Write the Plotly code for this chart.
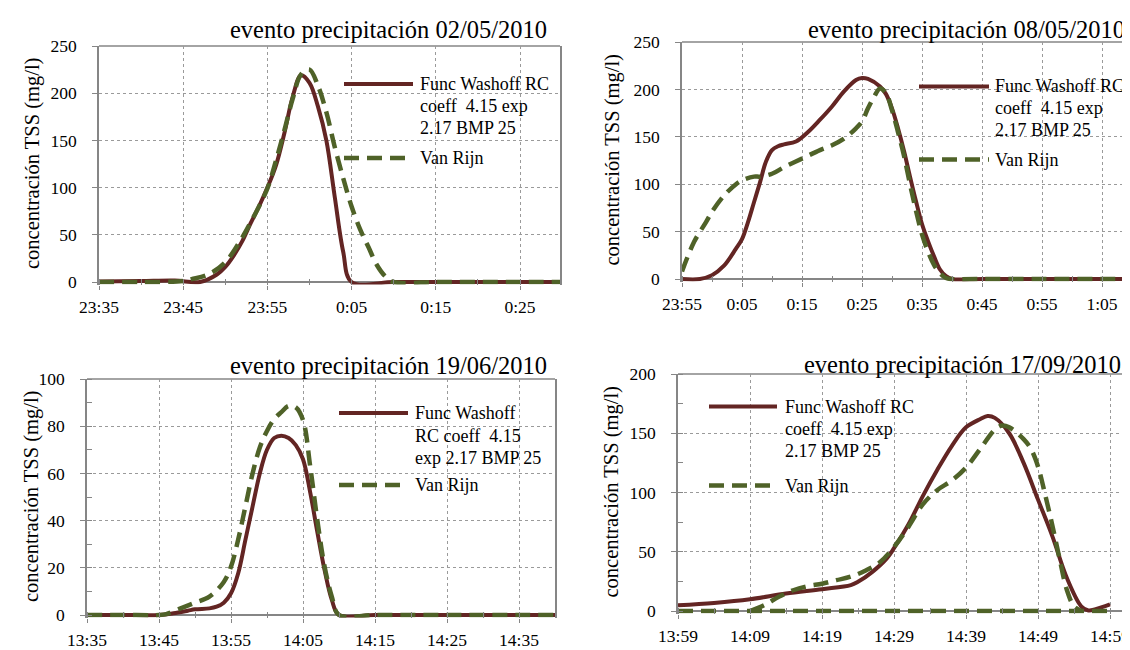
import datetime as dt
import plotly.graph_objects as go

W, H = 1130, 650
FONT = "Liberation Serif, Times New Roman, serif"
RED = "#632523"
GREEN = "#4F6228"
AXIS = "#868686"
GRID = "#9A9A9A"
DELTA = 2.5  # px of room below the zero line so baseline strokes are not half clipped

# ---------------- data ----------------
# Panel 1: 02/05/2010
p1_title = "evento precipitación 02/05/2010"
p1_date = "2010-05-02"
p1_xlabels = ["23:35", "23:45", "23:55", "0:05", "0:15", "0:25"]
p1_xrange = ["23:35", "00:29:45"]
p1_yticks = [0, 50, 100, 150, 200, 250]
p1_wash_t = ["23:35", "23:40", "23:44", "23:47", "23:49", "23:50", "23:51", "23:52", "23:53", "23:54",
             "23:55", "23:56", "23:57", "23:58", "23:59", "00:00", "00:01", "00:02", "00:03", "00:04",
             "00:05", "00:10", "00:15", "00:20", "00:25", "00:30"]
p1_wash_v = [0.5, 1, 1.5, 0, 8, 16, 28, 43, 62, 80,
             100, 123, 157, 196, 219, 211, 186, 150, 90, 32,
             0, 0, 0, 0, 0, 0]
p1_vr_t = ["23:35", "23:40", "23:45", "23:46", "23:48", "23:50", "23:52", "23:53", "23:54", "23:55",
           "23:56", "23:57", "23:58", "23:59", "00:00", "00:01", "00:02", "00:03", "00:04", "00:05",
           "00:06", "00:07", "00:08", "00:09", "00:10", "00:15", "00:20", "00:25", "00:30"]
p1_vr_v = [0, 0, 1, 3, 8, 21, 47, 63, 80, 99,
           128, 160, 194, 220, 225, 208, 180, 143, 110, 80,
           56, 37, 18, 6, 0, 0, 0, 0, 0]

# Panel 2: 08/05/2010
p2_title = "evento precipitación 08/05/2010"
p2_date = "2010-05-08"
p2_xlabels = ["23:55", "0:05", "0:15", "0:25", "0:35", "0:45", "0:55", "1:05"]
p2_xrange = ["23:55", "01:11"]
p2_yticks = [0, 50, 100, 150, 200, 250]
p2_wash_t = ["23:55", "23:58", "00:00", "00:02", "00:04", "00:05", "00:06", "00:07", "00:08", "00:09",
             "00:10", "00:11", "00:12", "00:14", "00:16", "00:18", "00:20", "00:22", "00:24", "00:25",
             "00:26", "00:28", "00:29", "00:30", "00:31", "00:32", "00:33", "00:34", "00:35", "00:36",
             "00:37", "00:38", "00:39", "00:40", "00:45", "00:55", "01:05", "01:15"]
p2_wash_v = [0, 0, 4, 14, 32, 42, 60, 81, 102, 124,
             136, 140, 142, 145, 155, 168, 182, 198, 210, 212,
             211, 203, 195, 180, 159, 135, 108, 82, 58, 40,
             24, 10, 3, 0, 0, 0, 0, 0]
p2_vr_t = ["23:55", "23:57", "23:59", "00:00", "00:02", "00:04", "00:05", "00:07", "00:08", "00:10",
           "00:12", "00:15", "00:18", "00:20", "00:22", "00:24", "00:25", "00:26", "00:27", "00:28",
           "00:29", "00:30", "00:31", "00:32", "00:33", "00:34", "00:35", "00:36", "00:37", "00:38",
           "00:39", "00:40", "00:45", "00:55", "01:05", "01:15"]
p2_vr_v = [8, 39, 60, 71, 88, 100, 104, 108, 108, 111,
           118, 127, 136, 141, 148, 159, 166, 180, 192, 201,
           196, 178, 155, 130, 100, 72, 47, 29, 15, 6,
           1, 0, 0, 0, 0, 0]

# Panel 3: 19/06/2010
p3_title = "evento precipitación 19/06/2010"
p3_date = "2010-06-19"
p3_xlabels = ["13:35", "13:45", "13:55", "14:05", "14:15", "14:25", "14:35"]
p3_xrange = ["13:35", "14:40"]
p3_yticks = [0, 20, 40, 60, 80, 100]
p3_wash_t = ["13:35", "13:40", "13:45", "13:47", "13:49", "13:50", "13:52", "13:53", "13:54", "13:55",
             "13:56", "13:57", "13:58", "13:59", "14:00", "14:01", "14:02", "14:03", "14:04", "14:05",
             "14:06", "14:07", "14:08", "14:09", "14:10", "14:15", "14:20", "14:25", "14:30", "14:35",
             "14:40"]
p3_wash_v = [0, 0, 0, 0.7, 1.8, 2.4, 2.8, 3.5, 5.2, 9.2,
             17.7, 31.8, 46, 60, 70, 75, 76, 75, 72, 66,
             52, 35, 19, 6.4, 0, 0, 0, 0, 0, 0,
             0]
p3_vr_t = ["13:35", "13:40", "13:45", "13:46", "13:48", "13:50", "13:52", "13:54", "13:55", "13:56",
           "13:57", "13:58", "13:59", "14:00", "14:01", "14:02", "14:03", "14:04", "14:05", "14:06",
           "14:07", "14:08", "14:09", "14:10", "14:15", "14:20", "14:25", "14:30", "14:35", "14:40"]
p3_vr_v = [0, 0, 0, 0.4, 2.8, 5.2, 7.8, 14, 20.5, 32,
           46, 60, 71, 78, 83, 86, 88.6, 88, 82.6, 63,
           40, 20.5, 7.8, 0, 0, 0, 0, 0, 0, 0]

# Panel 4: 17/09/2010
p4_title = "evento precipitación 17/09/2010"
p4_date = "2010-09-17"
p4_xlabels = ["13:59", "14:09", "14:19", "14:29", "14:39", "14:49", "14:59"]
p4_xrange = ["13:59", "15:02:20"]
p4_yticks = [0, 50, 100, 150, 200]
p4_wash_t = ["13:59", "14:04", "14:09", "14:14", "14:19", "14:23", "14:24", "14:26", "14:28", "14:29",
             "14:31", "14:33", "14:35", "14:37", "14:39", "14:41", "14:42", "14:43", "14:45", "14:47",
             "14:49", "14:51", "14:53", "14:55", "14:56", "14:57", "14:59"]
p4_wash_v = [4.8, 6.8, 9.9, 14.7, 18.4, 21.8, 24.6, 33, 44.4, 53,
             73, 97, 119, 139, 155, 162, 164.5, 163, 150, 125,
             94, 63, 28, 4, 0.5, 1.5, 5.5]
p4_vr_t = ["14:09", "14:11", "14:13", "14:15", "14:17", "14:19", "14:21", "14:23", "14:25", "14:27",
           "14:29", "14:31", "14:33", "14:35", "14:37", "14:39", "14:41", "14:43", "14:44", "14:45",
           "14:47", "14:48", "14:49", "14:50", "14:51", "14:52", "14:53", "14:54", "14:55"]
p4_vr_v = [0, 5, 12, 17.5, 21, 23, 26, 29, 34, 41,
           54, 71, 90, 102, 110, 121, 137, 153, 156.5, 155,
           145, 137, 122, 98, 72, 44, 18, 4, 0]
p4_base_t = ["13:59", "14:59"]
p4_base_v = [0, 0]

leg_wash_a = ["Func Washoff RC", "coeff\u00a0\u00a04.15 exp", "2.17 BMP 25"]
leg_wash_b = ["Func Washoff", "RC coeff\u00a0\u00a04.15", "exp 2.17 BMP 25"]
leg_vr = "Van Rijn"
ytitle = "concentración TSS (mg/l)"


def to_dt(date, start, times):
    base = dt.datetime.strptime(date, "%Y-%m-%d")
    sh = int(start.split(":")[0])
    out = []
    for s in times:
        parts = [int(p) for p in s.split(":")]
        h, m = parts[0], parts[1]
        sec = parts[2] if len(parts) > 2 else 0
        d = base + dt.timedelta(hours=h, minutes=m, seconds=sec)
        if h < sh - 12:
            d += dt.timedelta(days=1)
        out.append(d)
    return out


def px(x):
    return x / W


def py(y):
    return 1 - y / H


panels = [
    dict(title=p1_title, date=p1_date, xlabels=p1_xlabels, xrange=p1_xrange, yticks=p1_yticks,
         wash=(p1_wash_t, p1_wash_v), vr=[(p1_vr_t, p1_vr_v)],
         box=(91, 552, 38, 274), ymirror=True, yminor=None,
         tpos=(541, 21.5), ytpos=(24, 156),
         leg=dict(x0=336, x1=405, tx=410, ys=[76, 98, 120], yv=150, text=leg_wash_a)),
    dict(title=p2_title, date=p2_date, xlabels=p2_xlabels, xrange=p2_xrange, yticks=p2_yticks,
         wash=(p2_wash_t, p2_wash_v), vr=[(p2_vr_t, p2_vr_v)],
         box=(674, 1130, 34, 271), ymirror=False, yminor=None,
         tpos=(1119, 21.5), ytpos=(604, 152.5),
         leg=dict(x0=911, x1=981, tx=985, ys=[78.5, 100, 122], yv=151.5, text=leg_wash_a)),
    dict(title=p3_title, date=p3_date, xlabels=p3_xlabels, xrange=p3_xrange, yticks=p3_yticks,
         wash=(p3_wash_t, p3_wash_v), vr=[(p3_vr_t, p3_vr_v)],
         box=(79, 547, 371, 607), ymirror=True, yminor=10,
         tpos=(541, 357), ytpos=(23, 489),
         leg=dict(x0=331, x1=400, tx=405, ys=[405, 428, 450], yv=477, text=leg_wash_b)),
    dict(title=p4_title, date=p4_date, xlabels=p4_xlabels, xrange=p4_xrange, yticks=p4_yticks,
         wash=(p4_wash_t, p4_wash_v), vr=[(p4_vr_t, p4_vr_v), (p4_base_t, p4_base_v)],
         box=(670, 1126, 366, 603), ymirror=True, yminor=25,
         tpos=(1115, 356), ytpos=(603, 484.5),
         leg=dict(x0=701, x1=769, tx=775, ys=[398.5, 421, 443], yv=477.5, text=leg_wash_a)),
]

fig = go.Figure()
annotations = []
shapes = []
layout = {}
tickfont = dict(family=FONT, size=17.5, color="black")

for i, p in enumerate(panels, start=1):
    xa = "x" if i == 1 else f"x{i}"
    ya = "y" if i == 1 else f"y{i}"
    start = p["xlabels"][0]
    wt, wv = p["wash"]
    fig.add_trace(go.Scatter(x=to_dt(p["date"], start, wt), y=wv, mode="lines",
                             line=dict(color=RED, width=4, shape="spline", smoothing=1),
                             xaxis=xa, yaxis=ya, showlegend=False, hoverinfo="skip"))
    for vt, vv in p["vr"]:
        fig.add_trace(go.Scatter(x=to_dt(p["date"], start, vt), y=vv, mode="lines",
                                 line=dict(color=GREEN, width=4.5, shape="spline", smoothing=1,
                                           dash="15px,8px"),
                                 xaxis=xa, yaxis=ya, showlegend=False, hoverinfo="skip"))
    x0, x1, y0, y1 = p["box"]
    ymax = p["yticks"][-1]
    upp = ymax / (y1 - y0)
    xticks = to_dt(p["date"], start, p["xlabels"])
    xr = to_dt(p["date"], start, p["xrange"])
    layout[f"xaxis{i}" if i > 1 else "xaxis"] = dict(
        domain=[px(x0), min(px(x1), 1.0)], anchor=ya, type="date", automargin=False,
        range=[xr[0], xr[1]], tickmode="array", tickvals=xticks, ticktext=p["xlabels"],
        ticks="outside", ticklen=4, tickcolor=AXIS, tickwidth=1,
        showline=False,
        showgrid=True, gridcolor=GRID, griddash="dot", gridwidth=1,
        zeroline=False, ticklabelstandoff=2,
        tickfont=tickfont,
        minor=dict(ticks="inside", ticklen=6, tickcolor=AXIS, dtick=300000,
                   tick0=xticks[0], showgrid=False),
    )
    ydict = dict(
        domain=[py(y1 + DELTA), py(y0)], anchor=xa, range=[-DELTA * upp, ymax], automargin=False,
        tickmode="array", tickvals=p["yticks"],
        ticks="outside", ticklen=5, tickcolor=AXIS, tickwidth=1,
        showline=True, linecolor=AXIS, linewidth=1.5, mirror=p["ymirror"],
        showgrid=True, gridcolor=GRID, griddash="dot", gridwidth=1,
        zeroline=True, zerolinecolor=AXIS, zerolinewidth=1.5, ticklabelstandoff=12,
        tickfont=tickfont,
    )
    if p["yminor"]:
        ydict["minor"] = dict(ticks="inside", ticklen=5, tickcolor=AXIS, dtick=p["yminor"],
                              tick0=0, showgrid=False)
    layout[f"yaxis{i}" if i > 1 else "yaxis"] = ydict

    # top frame line
    shapes.append(dict(type="line", xref="paper", yref="paper", layer="below",
                       x0=px(x0), x1=min(px(x1), 1.0), y0=py(y0), y1=py(y0),
                       line=dict(color=AXIS, width=1.5)))
    # title
    tx, ty = p["tpos"]
    annotations.append(dict(text=p["title"], x=px(tx), y=py(ty), xref="paper", yref="paper",
                            xanchor="right", yanchor="middle", showarrow=False,
                            font=dict(family=FONT, size=24.5, color="black")))
    # y axis title
    ax, ay = p["ytpos"]
    annotations.append(dict(text=ytitle, x=px(ax), y=py(ay), xref="paper", yref="paper",
                            xanchor="center", yanchor="middle", showarrow=False, textangle=-90,
                            font=dict(family=FONT, size=20.5, color="black")))
    # legend (drawn by hand to match the original layout)
    lg = p["leg"]
    shapes.append(dict(type="line", xref="paper", yref="paper", x0=px(lg["x0"]), x1=px(lg["x1"]),
                       y0=py(lg["ys"][0]), y1=py(lg["ys"][0]), line=dict(color=RED, width=4)))
    shapes.append(dict(type="line", xref="paper", yref="paper", x0=px(lg["x0"]), x1=px(lg["x1"]),
                       y0=py(lg["yv"]), y1=py(lg["yv"]),
                       line=dict(color=GREEN, width=4.5, dash="15px,8px")))
    for line_text, yy in zip(lg["text"], lg["ys"]):
        annotations.append(dict(text=line_text, x=px(lg["tx"]), y=py(yy), xref="paper", yref="paper",
                                xanchor="left", yanchor="middle", showarrow=False,
                                font=dict(family=FONT, size=18, color="black")))
    annotations.append(dict(text=leg_vr, x=px(lg["tx"]), y=py(lg["yv"]), xref="paper", yref="paper",
                            xanchor="left", yanchor="middle", showarrow=False,
                            font=dict(family=FONT, size=18, color="black")))

fig.update_layout(template="none", width=W, height=H, margin=dict(l=0, r=0, t=0, b=0, pad=0),
                  font=dict(family=FONT, color="black"),
                  paper_bgcolor="white", plot_bgcolor="white", showlegend=False,
                  annotations=annotations, shapes=shapes, **layout)

fig.write_html("out.html")
